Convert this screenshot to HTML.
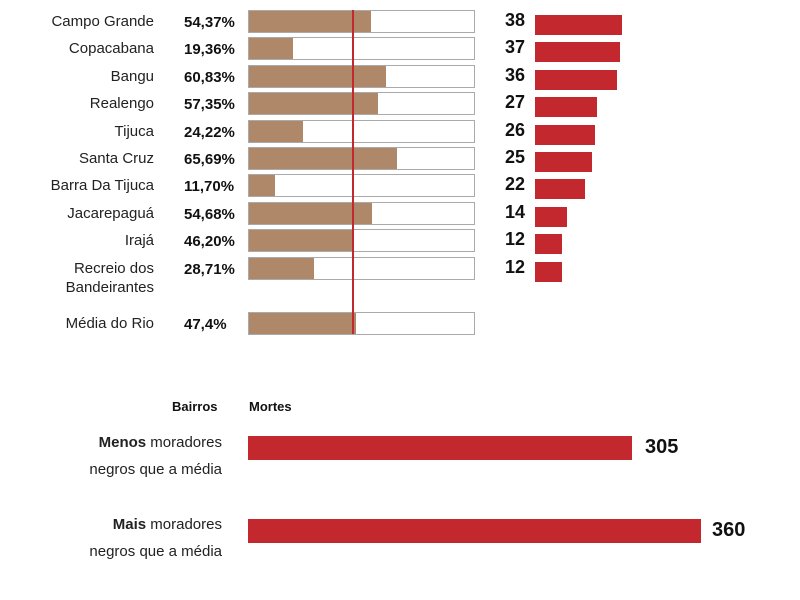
<!DOCTYPE html>
<html><head><meta charset="utf-8"><style>
body{margin:0;width:800px;height:600px;background:#fff;position:relative;overflow:hidden;font-family:"Liberation Sans","DejaVu Sans",sans-serif;color:#111}
div{position:absolute}
#c{position:static}
.lab{right:646px;font-size:15px;text-align:right;line-height:19px;color:#222;white-space:nowrap}
.pct{left:184px;font-size:15px;font-weight:bold;}
.box{left:248px;width:225px;height:21px;border:1px solid #aaa;background:#fff}
.fill{left:0;top:0;height:21px;background:#ae8869}
.num{left:497px;width:28px;text-align:right;font-size:18px;font-weight:bold}
.rb{left:535px;height:20px;background:#c4282f}
</style></head><body>
<div id="c"></div>
<div style="left:172px;top:399px;font-size:13px;font-weight:bold">Bairros</div>
<div style="left:249px;top:399px;font-size:13px;font-weight:bold">Mortes</div>
<div style="right:578px;top:429px;font-size:15px;text-align:right;line-height:27px;color:#222;white-space:nowrap"><b>Menos</b> moradores<br>negros que a média</div>
<div style="left:248px;top:436px;width:384px;height:24px;background:#c4282f"></div>
<div style="left:645px;top:436px;font-size:20px;font-weight:bold">305</div>
<div style="right:578px;top:511px;font-size:15px;text-align:right;line-height:27px;color:#222;white-space:nowrap"><b>Mais</b> moradores<br>negros que a média</div>
<div style="left:248px;top:519px;width:453px;height:24px;background:#c4282f"></div>
<div style="left:712px;top:519px;font-size:20px;font-weight:bold">360</div>
<script>
var d=[["Campo Grande","54,37%",54.37,38],["Copacabana","19,36%",19.36,37],["Bangu","60,83%",60.83,36],["Realengo","57,35%",57.35,27],["Tijuca","24,22%",24.22,26],["Santa Cruz","65,69%",65.69,25],["Barra Da Tijuca","11,70%",11.70,22],["Jacarepaguá","54,68%",54.68,14],["Irajá","46,20%",46.20,12],["Recreio dos<br>Bandeirantes","28,71%",28.71,12]];
var h="";
function row(y,l,p,v,n){
 h+='<div class="lab" style="top:'+(y-9)+'px">'+l+'</div>';
 h+='<div class="pct" style="top:'+(y-7)+'px">'+p+'</div>';
 h+='<div class="box" style="top:'+(y-11)+'px"><div class="fill" style="width:'+(v*2.25)+'px"></div></div>';
 if(n!=null){h+='<div class="num" style="top:'+(y-11)+'px">'+n+'</div>';
 h+='<div class="rb" style="top:'+(y-6)+'px;width:'+(n*2.29)+'px"></div>';}
}
d.forEach(function(r,i){row(21+i*27.4,r[0],r[1],r[2],r[3]);});
row(323,"Média do Rio","47,4%",47.4,null);
h+='<div style="left:352px;top:10px;width:2px;height:324px;background:#c4282f"></div>';
document.getElementById("c").innerHTML=h;
</script>
</body></html>
